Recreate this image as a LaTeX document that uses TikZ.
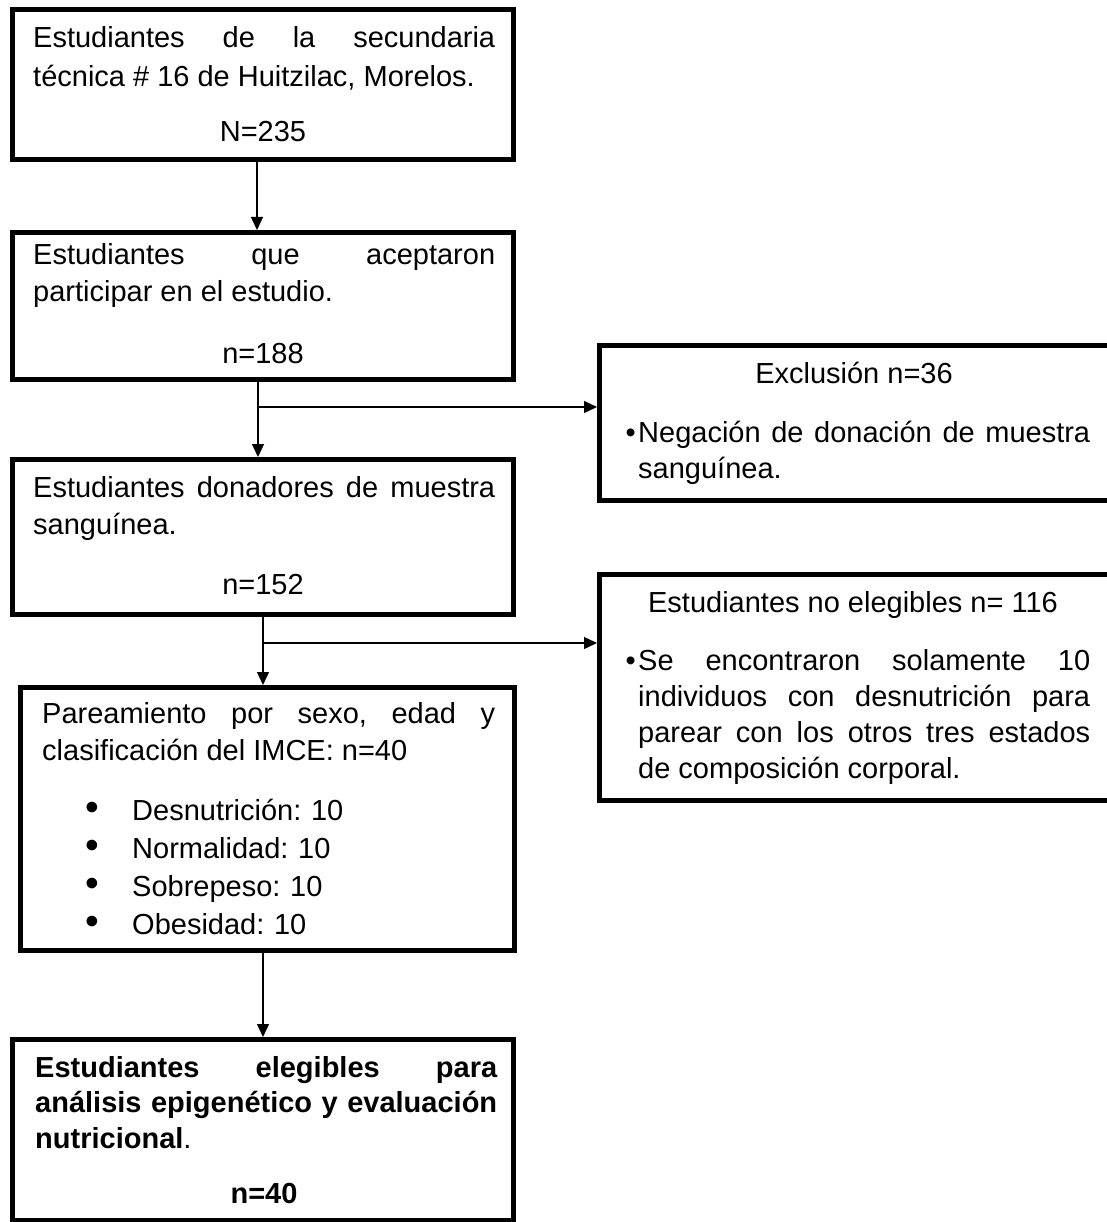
\documentclass[tikz,border=0pt]{standalone}
\usepackage{fontspec}
\setmainfont{Liberation Sans}
\usepackage{graphicx}
\usetikzlibrary{arrows.meta}
\newcommand{\listbul}{\scalebox{1.35}{\textbullet}}
\newcommand{\smallbul}{\leavevmode\llap{\textbullet\hspace{2.5pt}}}
\newcommand{\itembul}{\leavevmode\llap{\listbul\hspace{33pt}}}
\begin{document}
\begin{tikzpicture}[x=1pt,y=-1pt,
  box/.style={draw, line width=5pt, inner sep=0pt},
  para/.style={anchor=base west, inner sep=0pt, text width=#1, align=justify,
     font=\fontsize{29}{37}\selectfont,
     execute at begin node={\frenchspacing\hyphenpenalty=10000\exhyphenpenalty=10000\tolerance=10000}},
  ctr/.style={anchor=base, inner sep=0pt, font=\fontsize{29}{37}\selectfont},
  arr/.style={line width=1.3pt, -{Triangle[length=13pt,width=12pt]}}]
\useasboundingbox (0,0) rectangle (1107,1222);
\fill[white] (0,0) rectangle (1107,1222);

% boxes
\node[box, minimum width=501pt, minimum height=150pt] (b1) at (263,84.5) {};
\node[box, minimum width=501pt, minimum height=147pt] (b2) at (263,306) {};
\node[box, minimum width=513pt, minimum height=155pt] (b3) at (856,423) {};
\node[box, minimum width=501pt, minimum height=155pt] (b4) at (263,537) {};
\node[box, minimum width=513pt, minimum height=226pt] (b5) at (856,687.5) {};
\node[box, minimum width=494pt, minimum height=263pt] (b6) at (267.5,819) {};
\node[box, minimum width=501pt, minimum height=181pt] (b7) at (263,1130) {};

% texts
\node[para=462pt, font=\fontsize{29}{38.5}\selectfont] (t1) at (33,48) {Estudiantes de la secundaria\linebreak técnica \# 16 de Huitzilac, Morelos.};
\node[ctr] (n1) at (263,142) {N=235};

\node[para=462pt] (t2) at (33,265) {Estudiantes que aceptaron\linebreak participar en el estudio.};
\node[ctr] (n2) at (263,363) {n=188};

\node[ctr] (h3) at (854,383) {Exclusión n=36};
\node[para=452pt, font=\fontsize{29}{36}\selectfont] (t3) at (638,442) {\smallbul Negación de donación de muestra\linebreak sanguínea.};

\node[para=462pt] (t4) at (33,497) {Estudiantes donadores de muestra\linebreak sanguínea.};
\node[ctr] (n4) at (263,594) {n=152};

\node[ctr] (h5) at (853,612) {Estudiantes no elegibles n= 116};
\node[para=452pt, font=\fontsize{29}{36}\selectfont] (t5) at (638,670) {\smallbul Se encontraron solamente 10\linebreak individuos con desnutrición para\linebreak parear con los otros tres estados\linebreak de composición corporal.};

\node[para=453pt] (t6) at (42,723) {Pareamiento por sexo, edad y\linebreak clasificación del IMCE: n=40};
\node[anchor=base west, inner sep=0pt, text width=330pt, align=left, font=\fontsize{29}{38.3}\selectfont,
  execute at begin node={\frenchspacing}] (t6l) at (132,820)
  {\itembul Desnutrición: 10\\
   \itembul Normalidad: 10\\
   \itembul Sobrepeso: 10\\
   \itembul Obesidad: 10};

\node[para=462pt, font=\fontsize{29}{35.5}\selectfont] (t7) at (35,1077) {\textbf{Estudiantes elegibles para\linebreak análisis epigenético y evaluación\linebreak nutricional}.};
\node[ctr, font=\fontsize{29}{37}\selectfont\bfseries] (n7) at (264,1203) {n=40};

% connectors
\coordinate (x1) at (257,0);
\coordinate (x2) at (258,0);
\coordinate (x3) at (263,0);
\coordinate (j1) at (258,407);
\coordinate (j2) at (263,643);
\draw[arr] (b1.south -| x1) -- (b2.north -| x1);
\draw[arr] (b2.south -| x2) -- (b4.north -| x2);
\draw[arr] (j1) -- (j1 -| b3.west);
\draw[arr] (b4.south -| x3) -- (b6.north -| x3);
\draw[arr] (j2) -- (j2 -| b5.west);
\draw[arr] (b6.south -| x3) -- (b7.north -| x3);
\end{tikzpicture}
\end{document}
